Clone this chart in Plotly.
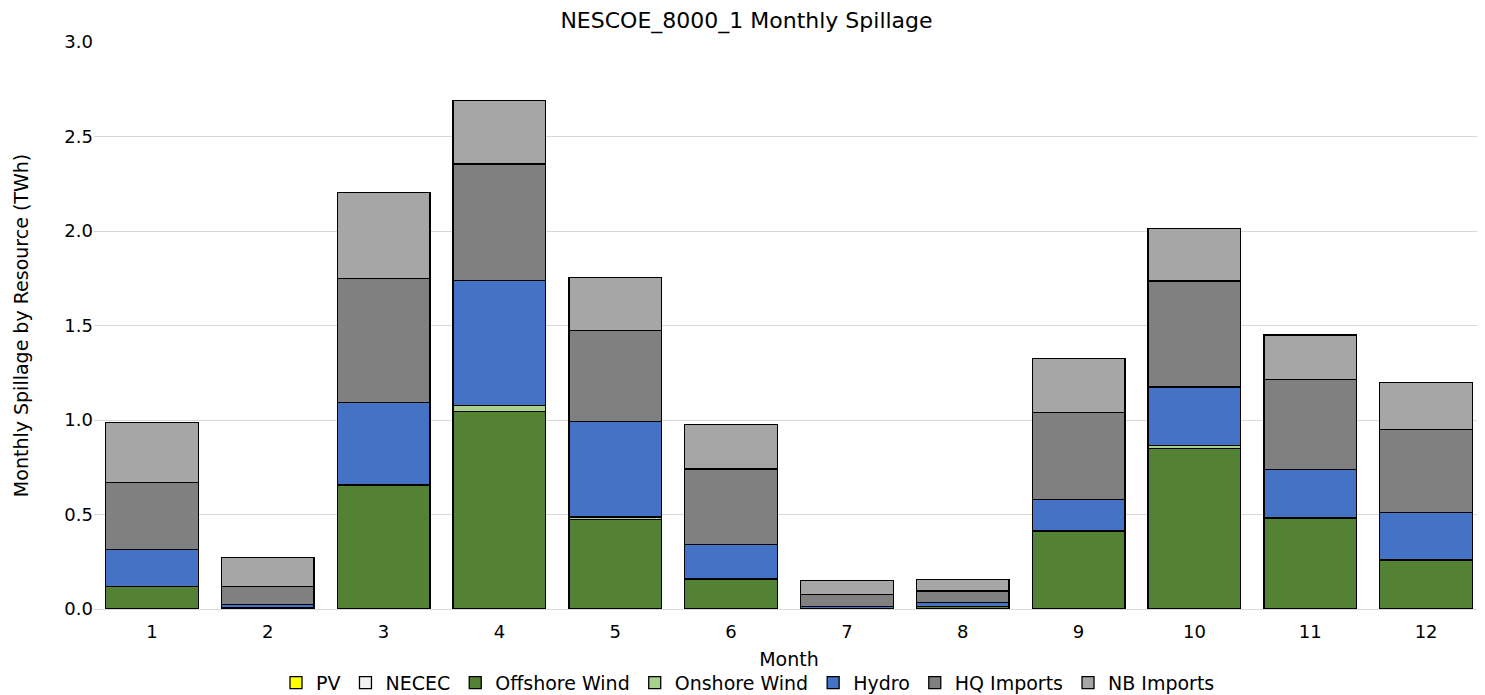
import plotly.graph_objects as go

months = [str(m) for m in range(1, 13)]
pv = [0]*12
necec = [0]*12
offshore_wind = [0.118, 0.005, 0.655, 1.046, 0.475, 0.155, 0.003, 0.015, 0.410, 0.850, 0.481, 0.260]
onshore_wind = [0.0, 0.0, 0.005, 0.032, 0.012, 0.005, 0.0, 0.0, 0.005, 0.015, 0.0, 0.0]
hydro = [0.197, 0.018, 0.432, 0.661, 0.505, 0.180, 0.010, 0.021, 0.163, 0.310, 0.258, 0.252]
hq_imports = [0.356, 0.097, 0.658, 0.616, 0.482, 0.400, 0.062, 0.060, 0.463, 0.560, 0.474, 0.438]
nb_imports = [0.317, 0.151, 0.453, 0.337, 0.280, 0.237, 0.074, 0.061, 0.284, 0.280, 0.237, 0.250]

series = [
    ("PV", pv, "#FFFF00"),
    ("NECEC", necec, "#F2F2F2"),
    ("Offshore Wind", offshore_wind, "#548235"),
    ("Onshore Wind", onshore_wind, "#A9D18E"),
    ("Hydro", hydro, "#4472C4"),
    ("HQ Imports", hq_imports, "#808080"),
    ("NB Imports", nb_imports, "#A6A6A6"),
]

font_family = "'DejaVu Sans', Verdana, sans-serif"

fig = go.Figure()
for name, vals, color in series:
    fig.add_trace(go.Bar(
        x=months, y=vals, name=name,
        marker=dict(color=color, line=dict(color="#000000", width=1.3)),
    ))

fig.update_layout(
    barmode="stack",
    bargap=0.2,
    width=1477, height=695,
    margin=dict(l=86, r=1, t=34, b=92),
    paper_bgcolor="white",
    plot_bgcolor="white",
    font=dict(family=font_family, size=17, color="#000000"),
    title=dict(text="NESCOE_8000_1 Monthly Spillage", x=0.5, xanchor="center",
               y=0.9827, yanchor="middle", font=dict(size=22, family=font_family, color="#000000")),
    legend=dict(orientation="h", x=0.4705, xanchor="center", y=-0.130, yanchor="middle",
                font=dict(size=19, family=font_family), itemwidth=30, tracegroupgap=0,
                traceorder="normal"),
    xaxis=dict(title=dict(text="Month", standoff=11, font=dict(size=19)),
               automargin=False, ticklabelstandoff=10,
               showgrid=False, showline=False, ticks="", tickfont=dict(size=18)),
    yaxis=dict(title=dict(text="Monthly Spillage by Resource (TWh)", standoff=30, font=dict(size=19)),
               automargin=False,
               range=[0, 3.0], dtick=0.5, tickformat=".1f",
               showgrid=True, gridcolor="#D9D9D9", gridwidth=1,
               zeroline=True, zerolinecolor="#D9D9D9", zerolinewidth=1,
               showline=False, ticks="", tickfont=dict(size=18)),
)

fig.write_html("out.html")
